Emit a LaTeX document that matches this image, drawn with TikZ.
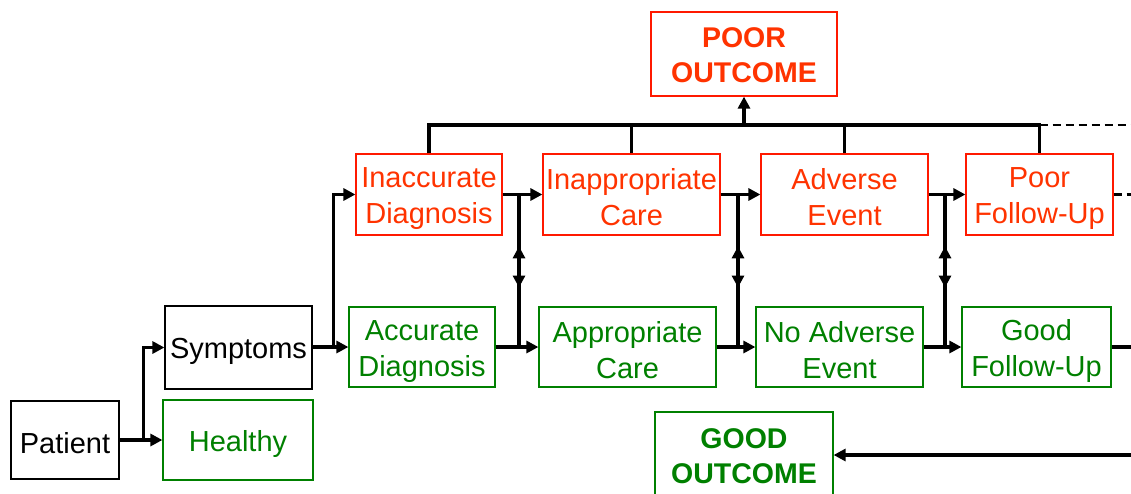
\documentclass[tikz,border=0pt]{standalone}
\usepackage{fontspec}
\setmainfont{Liberation Sans}
\usetikzlibrary{arrows.meta,calc}
\definecolor{badred}{RGB}{255,51,0}
\definecolor{badline}{RGB}{255,25,0}
\definecolor{okgreen}{RGB}{0,128,0}
\newcommand{\boxstrut}{\rule[-3pt]{0pt}{32pt}}
\newcommand{\laststrut}{\rule[-3pt]{0pt}{3pt}}
% two lines with fixed height and depth
\newcommand{\twoline}[3][32pt]{\rule[-3pt]{0pt}{#1}#2\\#3\laststrut}

\begin{document}
\begin{tikzpicture}[x=1pt, y=-1pt, line width=3.2pt, >={Triangle[length=12pt,width=12pt]},
  box/.style={rectangle,draw,line width=1.2pt,align=center,inner sep=2pt,
    font=\fontsize{29}{36}\selectfont,execute at begin node=\boxstrut,execute at end node=\laststrut},
  bad/.style={box,draw=badline,text=badred},
  good/.style={box,draw=okgreen,text=okgreen},
  outcome/.style={font=\fontsize{28.5}{35}\selectfont\bfseries},
  dashed line/.style={line width=2.4pt,dash pattern=on 8pt off 5pt}]
\useasboundingbox (0,0) rectangle (1131,493);
\clip (0,0) rectangle (1131,493);

\node[box,minimum width=108pt,minimum height=78pt] (patient) at (65,440) {Patient};
\node[box,minimum width=147pt,minimum height=83pt] (symptoms) at (238.5,347.5) {Symptoms};
\node[good,minimum width=150pt,minimum height=80pt] (healthy) at (238,440) {Healthy};

\node[bad,minimum width=146pt,minimum height=81pt] (inaccdiag) at (429,194.5) {\twoline{Inaccurate}{Diagnosis}};
\node[bad,minimum width=177pt,minimum height=81pt] (inappcare) at (631.5,194.5) {\twoline{Inappropriate}{Care}};
\node[bad,minimum width=167pt,minimum height=81pt] (adverse) at (844.5,194.5) {\twoline{Adverse}{Event}};
\node[bad,minimum width=147pt,minimum height=81pt] (pfu) at (1039.5,194.5) {\twoline{Poor}{Follow-Up}};

\node[good,minimum width=146pt,minimum height=80pt] (accdiag) at (422,347) {\twoline{Accurate}{Diagnosis}};
\node[good,minimum width=177pt,minimum height=80pt] (appcare) at (627.5,347) {\twoline{Appropriate}{Care}};
\node[good,minimum width=167pt,minimum height=80pt] (noadverse) at (839.5,347) {\twoline{No Adverse}{Event}};
\node[good,minimum width=149pt,minimum height=80pt] (gfu) at (1036.5,347) {\twoline{Good}{Follow-Up}};

\node[bad,outcome,minimum width=186pt,minimum height=84pt] (poor) at (744,54) {\twoline[28pt]{POOR}{OUTCOME}};
\node[good,outcome,minimum width=178pt,minimum height=86pt] (good) at (744,455) {\twoline[27pt]{GOOD}{OUTCOME}};

\coordinate (bus) at (0,125);
\coordinate (edge) at (1131,0);

% patient and symptoms
\draw [->] (patient) -- (healthy);
\draw [->] ([xshift=24pt]patient.east) |- (symptoms.west);
\draw [->] (symptoms.east |- accdiag) -- (accdiag);
\draw [->] ([xshift=21pt]symptoms.east) |- (inaccdiag.west);

% both rows, step by step
\draw [->] (inaccdiag) -- (inappcare);
\draw [->] (inappcare) -- (adverse);
\draw [->] (adverse) -- (pfu);
\draw [->] (accdiag) -- (appcare);
\draw [->] (appcare) -- (noadverse);
\draw [->] (noadverse) -- (gfu);

% links between the rows
\coordinate (v1) at (519,0);
\coordinate (v2) at (738,0);
\coordinate (v3) at (945,0);
\foreach \v/\t/\b in {v1/inaccdiag/accdiag, v2/inappcare/appcare, v3/adverse/noadverse}{
  \draw (\v |- \t) -- (\v |- \b);
  \draw [<->] ($(\v |- \t)!0.34!(\v |- \b)$) -- ($(\v |- \t)!0.61!(\v |- \b)$);
}

% poor outcome bus
\draw (inaccdiag.north) |- (pfu.north |- bus) -- (pfu.north);
\draw (inappcare.north) -- (inappcare.north |- bus);
\draw (adverse.north) -- (adverse.north |- bus);
\draw [->] (poor.south |- bus) -- (poor.south);
\draw [dashed line] (pfu.north |- bus) -- (edge |- bus);
\draw [dashed line] (pfu.east) -- (pfu.east -| edge);

% good outcome
\draw (gfu.east) -- (gfu.east -| edge);
\draw [->] (good.east -| edge) -- (good.east);
\end{tikzpicture}
\end{document}
